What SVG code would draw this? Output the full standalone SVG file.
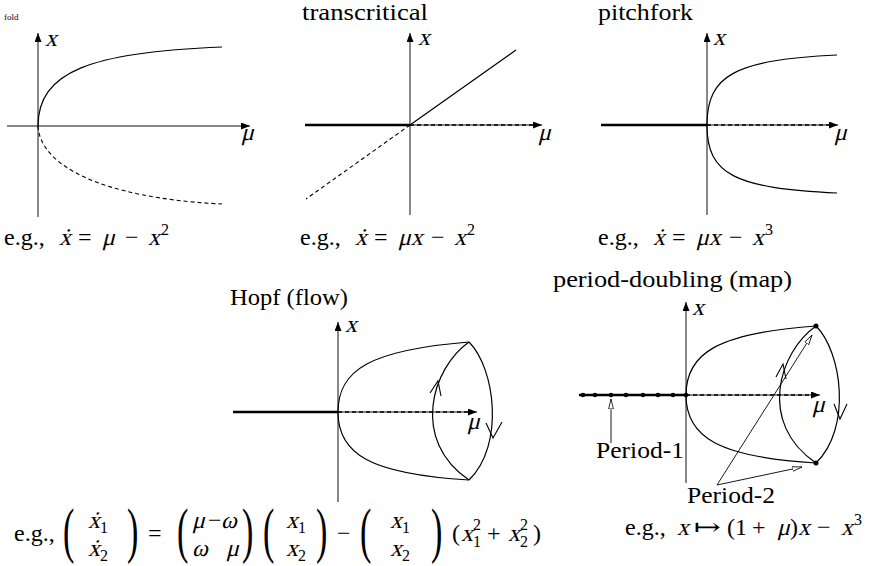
<svg xmlns="http://www.w3.org/2000/svg" width="877" height="566" viewBox="0 0 877 566">
<style>
text{font-family:"Liberation Serif","DejaVu Serif",serif;font-size:24px;fill:#000}
.s{font-size:16px}
.big{font-size:62px}
.ax{stroke:#111;stroke-width:1;fill:none}
.c{stroke:#000;stroke-width:1.2;fill:none}
.th{stroke:#000;stroke-width:2.6;fill:none}
.dsh{stroke:#000;stroke-width:1.6;fill:none;stroke-dasharray:4 3}
.dc{stroke:#000;stroke-width:1.1;fill:none;stroke-dasharray:4 3}
.ah{stroke:#000;stroke-width:1.1;fill:none}
.pa{stroke:#000;stroke-width:0.9;fill:none}
</style>
<defs>
<marker id="fa" markerWidth="10" markerHeight="8" refX="9" refY="3.5" orient="auto" markerUnits="userSpaceOnUse">
<path d="M0,0 L9,3.5 L0,7 z" fill="#000"/>
</marker>
<marker id="oa" markerWidth="12" markerHeight="8" refX="10" refY="3" orient="auto" markerUnits="userSpaceOnUse">
<path d="M0,0.6 L10,3 L0,5.4 z" fill="#fff" stroke="#000" stroke-width="0.8"/>
</marker>
</defs>

<g id="fold">
<text x="4" y="20" style="font-size:9px">fold</text>
<line class="ax" x1="38" y1="217" x2="38" y2="33" marker-end="url(#fa)"/>
<line class="ax" x1="7" y1="126" x2="250" y2="126" marker-end="url(#fa)"/>
<path class="c" d="M38,126 C38,72 90,52 222,47"/>
<path class="dc" d="M38,126 C40,165 100,198 222,204"/>
<text transform="translate(45,46) skewX(-14)">x</text>
<text transform="translate(241,140) skewX(-14)">μ</text>
<text x="4" y="245">e.g.,</text>
<text transform="translate(59,245) skewX(-14)">ẋ</text>
<text x="78" y="245">=</text>
<text transform="translate(102,245) skewX(-14)">μ</text>
<text x="125" y="245">−</text>
<text transform="translate(148,245) skewX(-14)">x</text>
<text class="s" x="161" y="235">2</text>
</g>

<g id="transcritical">
<text x="302" y="20" textLength="126" lengthAdjust="spacingAndGlyphs">transcritical</text>
<line class="ax" x1="410" y1="215" x2="410" y2="33" marker-end="url(#fa)"/>
<line class="ax" x1="305" y1="125" x2="542" y2="125" marker-end="url(#fa)"/>
<line class="th" x1="305" y1="125" x2="410" y2="125"/>
<line class="dsh" x1="410" y1="125" x2="536" y2="125"/>
<line class="c" x1="410" y1="125" x2="516" y2="50"/>
<line class="dc" x1="410" y1="125" x2="306" y2="199"/>
<text transform="translate(418,45) skewX(-14)">x</text>
<text transform="translate(538,140) skewX(-14)">μ</text>
<text x="300" y="245">e.g.,</text>
<text transform="translate(355,245) skewX(-14)">ẋ</text>
<text x="374" y="245">=</text>
<text transform="translate(398,245) skewX(-14)">μx</text>
<text x="431" y="245">−</text>
<text transform="translate(454,245) skewX(-14)">x</text>
<text class="s" x="467" y="235">2</text>
</g>

<g id="pitchfork">
<text x="598" y="20" textLength="95" lengthAdjust="spacingAndGlyphs">pitchfork</text>
<line class="ax" x1="707" y1="215" x2="707" y2="33" marker-end="url(#fa)"/>
<line class="ax" x1="601" y1="125" x2="838" y2="125" marker-end="url(#fa)"/>
<line class="th" x1="601" y1="125" x2="707" y2="125"/>
<line class="dsh" x1="707" y1="125" x2="832" y2="125"/>
<path class="c" d="M707,125 C707,75 735,60 837,55"/>
<path class="c" d="M707,125 C707,175 735,188 837,193"/>
<text transform="translate(713,45) skewX(-14)">x</text>
<text transform="translate(834,140) skewX(-14)">μ</text>
<text x="598" y="245">e.g.,</text>
<text transform="translate(653,245) skewX(-14)">ẋ</text>
<text x="672" y="245">=</text>
<text transform="translate(696,245) skewX(-14)">μx</text>
<text x="729" y="245">−</text>
<text transform="translate(752,245) skewX(-14)">x</text>
<text class="s" x="765" y="235">3</text>
</g>

<g id="hopf">
<text x="230" y="305" textLength="118" lengthAdjust="spacingAndGlyphs">Hopf (flow)</text>
<line class="ax" x1="338" y1="502" x2="338" y2="322" marker-end="url(#fa)"/>
<line class="ax" x1="233" y1="412" x2="477" y2="412" marker-end="url(#fa)"/>
<line class="th" x1="233" y1="412" x2="338" y2="412"/>
<line class="dsh" x1="338" y1="412" x2="471" y2="412"/>
<path class="c" d="M338,412 C338,370 370,350 469,342"/>
<path class="c" d="M338,412 C338,454 370,474 469,480"/>
<path class="c" d="M469,342 C495,368 505,445 469,480"/>
<path class="c" d="M469,342 C432,368 410,440 469,480"/>
<polyline class="ah" points="430,393 438,381 441,396"/>
<polyline class="ah" points="486,423 493,438 502,422"/>
<text transform="translate(345,332) skewX(-14)">x</text>
<text transform="translate(467,429) skewX(-14)">μ</text>
</g>

<g id="hopf-equation">
<text x="14" y="541">e.g.,</text>
<text class="big" transform="translate(63,551) scale(0.55,1)">(</text>
<text transform="translate(88,528) skewX(-14)">ẋ</text><text class="s" x="100" y="533">1</text>
<text transform="translate(88,556) skewX(-14)">ẋ</text><text class="s" x="100" y="561">2</text>
<text class="big" transform="translate(127,551) scale(0.55,1)">)</text>
<text x="148" y="541">=</text>
<text class="big" transform="translate(177,551) scale(0.55,1)">(</text>
<text transform="translate(192,528) skewX(-14)">μ</text>
<text x="208" y="528">−</text><text transform="translate(221,528) skewX(-14)">ω</text>
<text transform="translate(192,556) skewX(-14)">ω</text>
<text transform="translate(226,556) skewX(-14)">μ</text>
<text class="big" transform="translate(242,551) scale(0.55,1)">)</text>
<text class="big" transform="translate(263,551) scale(0.55,1)">(</text>
<text transform="translate(286,528) skewX(-14)">x</text><text class="s" x="298" y="533">1</text>
<text transform="translate(286,556) skewX(-14)">x</text><text class="s" x="298" y="561">2</text>
<text class="big" transform="translate(316,551) scale(0.55,1)">)</text>
<text x="337" y="541">−</text>
<text class="big" transform="translate(360,551) scale(0.55,1)">(</text>
<text transform="translate(390,528) skewX(-14)">x</text><text class="s" x="402" y="533">1</text>
<text transform="translate(390,556) skewX(-14)">x</text><text class="s" x="402" y="561">2</text>
<text class="big" transform="translate(431,551) scale(0.55,1)">)</text>
<text x="452" y="541">(</text>
<text transform="translate(461,541) skewX(-14)">x</text>
<text class="s" x="473" y="530">2</text>
<text class="s" x="473" y="547">1</text>
<text x="487" y="541">+</text>
<text transform="translate(508,541) skewX(-14)">x</text>
<text class="s" x="520" y="530">2</text>
<text class="s" x="520" y="547">2</text>
<text x="533" y="541">)</text>
</g>

<g id="period-doubling">
<text x="553" y="287" textLength="239" lengthAdjust="spacingAndGlyphs">period-doubling (map)</text>
<line class="ax" x1="686" y1="483" x2="686" y2="302" marker-end="url(#fa)"/>
<line class="ax" x1="579" y1="395" x2="820" y2="395" marker-end="url(#fa)"/>
<line class="th" x1="579" y1="395" x2="686" y2="395"/>
<line class="dsh" x1="686" y1="395" x2="814" y2="395"/>
<g fill="#000">
<circle cx="583" cy="395" r="2.3"/><circle cx="595" cy="395" r="2.3"/><circle cx="611" cy="395" r="2.3"/><circle cx="626" cy="395" r="2.3"/><circle cx="643" cy="395" r="2.3"/><circle cx="658" cy="395" r="2.3"/><circle cx="673" cy="395" r="2.3"/><circle cx="686" cy="395" r="2.3"/>
<circle cx="816" cy="326" r="2.5"/><circle cx="816" cy="463" r="2.5"/>
</g>
<path class="c" d="M686,395 C686,353 718,333 816,326"/>
<path class="c" d="M686,395 C686,437 718,457 816,463"/>
<path class="c" d="M816,326 C842,352 852,428 816,463"/>
<path class="c" d="M816,326 C779,352 757,423 816,463"/>
<polyline class="ah" points="776,377 783,364 786,379"/>
<polyline class="ah" points="834,404 840,419 847,404"/>
<text transform="translate(692,315) skewX(-14)">x</text>
<text transform="translate(812,412) skewX(-14)">μ</text>
</g>

<g id="period-labels">
<text x="596" y="458" textLength="88" lengthAdjust="spacingAndGlyphs">Period-1</text>
<text x="687" y="503" textLength="88" lengthAdjust="spacingAndGlyphs">Period-2</text>
</g>

<g id="connectors">
<line class="pa" x1="611" y1="443" x2="611" y2="399" marker-end="url(#oa)"/>
<line class="pa" x1="717" y1="485" x2="812" y2="335" marker-end="url(#oa)"/>
<line class="pa" x1="717" y1="485" x2="802" y2="467" marker-end="url(#oa)"/>
</g>

<g id="map-equation">
<text x="625" y="535">e.g.,</text>
<text transform="translate(677,535) skewX(-14)">x</text>
<text x="694" y="535" textLength="27" lengthAdjust="spacingAndGlyphs">↦</text>
<text x="727" y="535">(1</text>
<text x="752" y="535">+</text>
<text transform="translate(777,535) skewX(-14)">μ</text>
<text x="790" y="535">)</text>
<text transform="translate(798,535) skewX(-14)">x</text>
<text x="817" y="535">−</text>
<text transform="translate(841,535) skewX(-14)">x</text>
<text class="s" x="854" y="525">3</text>
</g>
</svg>
